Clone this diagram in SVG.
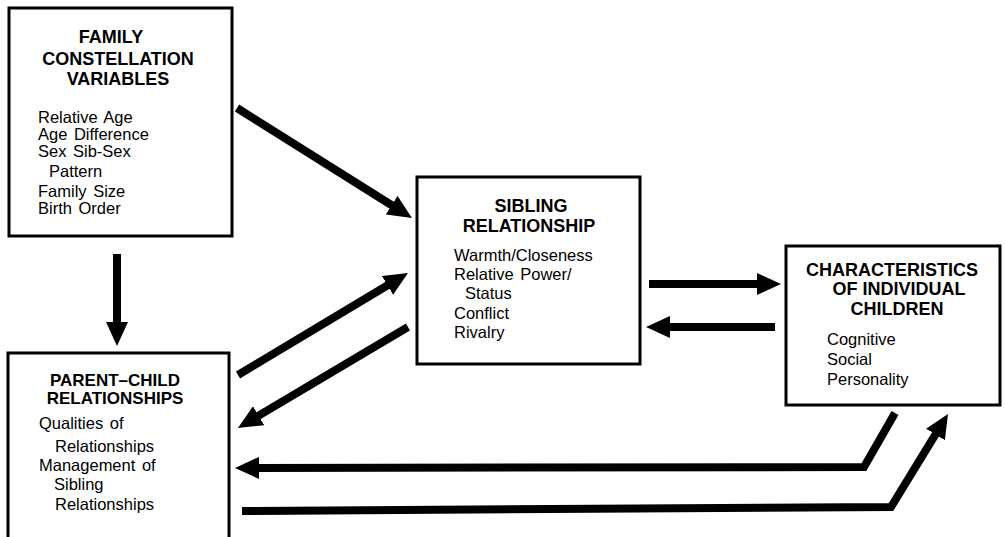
<svg xmlns="http://www.w3.org/2000/svg" width="1005" height="537" viewBox="0 0 1005 537">
<style>
.box{fill:#fff;stroke:#000;stroke-width:3}
.t{font-family:"Liberation Sans",Arial,sans-serif;font-weight:bold;font-size:18px;fill:#000;text-anchor:middle}
.b{font-family:"Liberation Sans",Arial,sans-serif;font-size:16.5px;fill:#000;word-spacing:2px}
.c{fill:none;stroke:#000;stroke-width:8;stroke-linejoin:miter}
</style>
<defs>
<marker id="ah" viewBox="0 0 24 22" refX="10" refY="11" markerWidth="24" markerHeight="22" markerUnits="userSpaceOnUse" orient="auto">
<path d="M0,0 L24,11 L0,22 Z" fill="#000"/>
</marker>
</defs>
<rect width="1005" height="537" fill="#fff"/>
<g id="family">
<rect class="box" x="9" y="8" width="223" height="228"/>
<text class="t" x="111" y="43">FAMILY</text>
<text class="t" x="118" y="65">CONSTELLATION</text>
<text class="t" x="118" y="85">VARIABLES</text>
<text class="b" x="38" y="123">Relative Age</text>
<text class="b" x="38" y="140">Age Difference</text>
<text class="b" x="38" y="157">Sex Sib-Sex</text>
<text class="b" x="49" y="177">Pattern</text>
<text class="b" x="38" y="197">Family Size</text>
<text class="b" x="38" y="214">Birth Order</text>
</g>
<g id="parent">
<rect class="box" x="8" y="353" width="221" height="200"/>
<text class="t" x="115" y="386" style="font-size:17px">PARENT–CHILD</text>
<text class="t" x="115" y="404" style="font-size:17px">RELATIONSHIPS</text>
<text class="b" x="39" y="429">Qualities of</text>
<text class="b" x="55" y="452">Relationships</text>
<text class="b" x="39" y="471">Management of</text>
<text class="b" x="54" y="490">Sibling</text>
<text class="b" x="55" y="510">Relationships</text>
</g>
<g id="sibling">
<rect class="box" x="417" y="177" width="223" height="187"/>
<text class="t" x="531" y="212">SIBLING</text>
<text class="t" x="529" y="232">RELATIONSHIP</text>
<text class="b" x="454" y="261">Warmth/Closeness</text>
<text class="b" x="454" y="280">Relative Power/</text>
<text class="b" x="465" y="299">Status</text>
<text class="b" x="454" y="319">Conflict</text>
<text class="b" x="454" y="338">Rivalry</text>
</g>
<g id="characteristics">
<rect class="box" x="786" y="246" width="214" height="159"/>
<text class="t" x="892" y="276">CHARACTERISTICS</text>
<text class="t" x="899" y="295">OF INDIVIDUAL</text>
<text class="t" x="897" y="315">CHILDREN</text>
<text class="b" x="827" y="345">Cognitive</text>
<text class="b" x="827" y="365">Social</text>
<text class="b" x="827" y="385">Personality</text>
</g>
<g id="connectors">
<path class="c" d="M237,108 L400.1,210.5" marker-end="url(#ah)"/>
<path class="c" d="M117,254 L117,332" marker-end="url(#ah)"/>
<path class="c" d="M238,375 L396,280.2" marker-end="url(#ah)"/>
<path class="c" d="M408,327 L250,420.8" marker-end="url(#ah)"/>
<path class="c" d="M649,284 L767,284" marker-end="url(#ah)"/>
<path class="c" d="M775,327 L660,327" marker-end="url(#ah)"/>
<path class="c" d="M895,413 L864,467 L249,468" marker-end="url(#ah)"/>
<path class="c" d="M242,511 L891,507 L940.7,425.9" marker-end="url(#ah)"/>
</g>
</svg>
